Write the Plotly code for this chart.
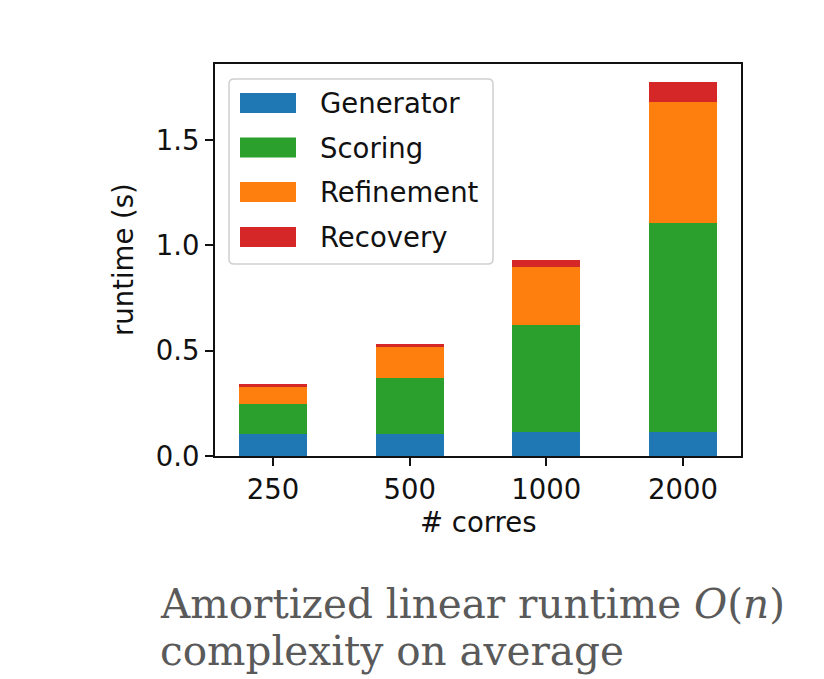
import plotly.graph_objects as go

categories = ["250", "500", "1000", "2000"]
series_names = ["Generator", "Scoring", "Refinement", "Recovery"]
series_colors = ["#1f77b4", "#2ca02c", "#ff7f0e", "#d62728"]
generator = [0.105, 0.105, 0.113, 0.113]
scoring = [0.140, 0.267, 0.510, 0.995]
refinement = [0.087, 0.146, 0.275, 0.573]
recovery = [0.008, 0.016, 0.032, 0.097]
series_values = [generator, scoring, refinement, recovery]
y_ticks = [0.0, 0.5, 1.0, 1.5]

FONT = "DejaVu Sans"
FS = 27.5
W, H = 824, 679
ML, MR, MT, MB = 215, 83, 64, 223
PW, PH = W - ML - MR, H - MT - MB

def px_x(x):
    return (x - ML) / PW

def px_y(y):
    return (H - MB - y) / PH

xpos = list(range(len(categories)))
totals = [sum(v[i] for v in series_values) for i in range(len(categories))]

fig = go.Figure()
for name, color, vals in zip(series_names, series_colors, series_values):
    fig.add_trace(go.Bar(x=xpos, y=vals, name=name, width=0.5,
                         marker=dict(color=color, line=dict(width=0)),
                         showlegend=False))

shapes = []
annotations = []

# legend frame (rounded)
x0, x1 = px_x(229), px_x(493)
yt, yb = px_y(79), px_y(264)
rx, ry = 5 / PW, 5 / PH
path = (f"M {x0+rx},{yt} L {x1-rx},{yt} Q {x1},{yt} {x1},{yt-ry} "
        f"L {x1},{yb+ry} Q {x1},{yb} {x1-rx},{yb} L {x0+rx},{yb} "
        f"Q {x0},{yb} {x0},{yb+ry} L {x0},{yt-ry} Q {x0},{yt} {x0+rx},{yt} Z")
shapes.append(dict(type="path", xref="paper", yref="paper", path=path,
                   fillcolor="rgba(255,255,255,0.8)",
                   line=dict(color="#d0d0d0", width=1.5), layer="above"))
centers = [103, 147.5, 192, 237]
for name, color, cy in zip(series_names, series_colors, centers):
    shapes.append(dict(type="rect", xref="paper", yref="paper",
                       x0=px_x(240), x1=px_x(296), y0=px_y(cy + 10), y1=px_y(cy - 10),
                       fillcolor=color, line=dict(width=0), layer="above"))
    annotations.append(dict(text=name, xref="paper", yref="paper",
                            x=px_x(318), y=px_y(cy), xanchor="left", yanchor="middle",
                            showarrow=False, font=dict(family=FONT, size=FS, color="#111")))

# axis titles
annotations.append(dict(text="runtime (s)", xref="paper", yref="paper",
                        x=px_x(123), y=0.5, textangle=-90, xanchor="center", yanchor="middle",
                        showarrow=False, font=dict(family=FONT, size=FS, color="#111")))
annotations.append(dict(text="# corres", xref="paper", yref="paper",
                        x=0.5, y=px_y(522), xanchor="center", yanchor="middle",
                        showarrow=False, font=dict(family=FONT, size=FS, color="#111")))

# caption
CAP = dict(family="DejaVu Serif", size=40.5, color="#5a5a5a")
annotations.append(dict(text="Amortized linear runtime <i>O</i>(<i>n</i>)", xref="paper", yref="paper",
                        x=px_x(158), y=px_y(603.5), xanchor="left", yanchor="middle",
                        showarrow=False, font=CAP))
annotations.append(dict(text="complexity on average", xref="paper", yref="paper",
                        x=px_x(158), y=px_y(650.5), xanchor="left", yanchor="middle",
                        showarrow=False, font=CAP))

fig.update_layout(
    width=W, height=H,
    margin=dict(l=ML, r=MR, t=MT, b=MB, pad=0),
    paper_bgcolor="white", plot_bgcolor="white",
    barmode="stack", bargap=0,
    shapes=shapes, annotations=annotations,
    showlegend=False,
    font=dict(family=FONT, size=FS, color="#111"),
)
fig.update_xaxes(range=[-0.425, len(categories) - 1 + 0.425], tickvals=xpos, ticktext=categories,
                 showgrid=False, zeroline=False, showline=True, mirror=True,
                 linecolor="#111", linewidth=1.8, ticks="outside", ticklen=8, tickwidth=1.8,
                 tickcolor="#111", tickfont=dict(family=FONT, size=FS, color="#111"))
fig.update_yaxes(range=[0, max(totals) * 1.047], tickvals=y_ticks, tickformat=".1f",
                 showgrid=False, zeroline=False, showline=True, mirror=True,
                 linecolor="#111", linewidth=1.8, ticks="outside", ticklen=8, tickwidth=1.8,
                 tickcolor="#111", tickfont=dict(family=FONT, size=FS, color="#111"))

fig.write_html("out.html")
